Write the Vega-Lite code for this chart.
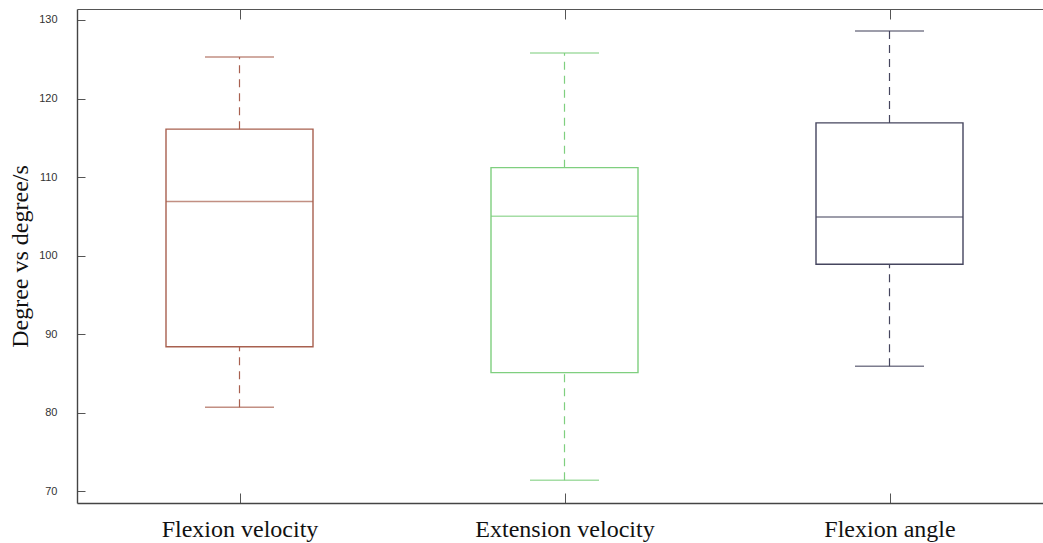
{
  "$schema": "https://vega.github.io/schema/vega-lite/v6.json",
  "autosize": "none",
  "width": 975,
  "height": 494,
  "padding": {"left": 77, "top": 9, "right": 0, "bottom": 40},
  "background": "white",
  "config": {
    "view": {"stroke": null},
    "axis": {"grid": false, "domainColor": "#444", "domainWidth": 1.3, "tickColor": "#555", "tickWidth": 1}
  },
  "data": {
    "values": [
      {"name": "Flexion velocity", "low": 80.7, "q1": 88.4, "median": 106.9, "q3": 116.1, "high": 125.3, "color": "Flexion velocity"},
      {"name": "Extension velocity", "low": 71.4, "q1": 85.1, "median": 105.0, "q3": 111.2, "high": 125.8, "color": "Extension velocity"},
      {"name": "Flexion angle", "low": 85.9, "q1": 98.9, "median": 104.9, "q3": 116.9, "high": 128.6, "color": "Flexion angle"}
    ]
  },
  "resolve": {"axis": {"x": "independent", "y": "independent"}},
  "layer": [
    {
      "mark": {"type": "rule", "strokeDash": [8, 6], "strokeWidth": 1.2},
      "encoding": {
        "x": {"field": "name", "type": "nominal", "sort": null,
              "scale": {"type": "point", "padding": 0.5},
              "axis": {"orient": "bottom", "title": null, "labelAngle": 0, "labelFont": "Liberation Serif", "labelFontSize": 24, "labelColor": "#111", "tickSize": -10, "labelPadding": 24, "domainColor": "#444", "domainWidth": 1.4, "domainOpacity": 1}},
        "y": {"field": "low", "type": "quantitative",
              "scale": {"domain": [68.5, 131.4], "nice": false, "zero": false},
              "axis": {"orient": "left", "values": [70, 80, 90, 100, 110, 120, 130], "title": "Degree vs degree/s", "titleFont": "Liberation Serif", "titleFontSize": 24, "titleFontWeight": "normal", "titleColor": "#111", "titlePadding": 6, "labelFont": "Liberation Sans", "labelFontSize": 11, "labelColor": "#333", "tickSize": -8, "labelPadding": 28, "domainColor": "#444", "domainWidth": 1.4, "domainOpacity": 1}},
        "y2": {"field": "q1"},
        "color": {"field": "color", "type": "nominal", "legend": null,
                  "scale": {"domain": ["Flexion velocity", "Extension velocity", "Flexion angle"], "range": ["#a8604f", "#7fcf7f", "#45455e"]}}
      }
    },
    {
      "mark": {"type": "rule", "strokeDash": [8, 6], "strokeWidth": 1.2},
      "encoding": {
        "x": {"field": "name", "type": "nominal", "sort": null,
              "axis": {"orient": "top", "title": null, "labels": false, "tickSize": -10, "domainColor": "#555", "domainWidth": 1}},
        "y": {"field": "q3", "type": "quantitative",
              "axis": {"orient": "right", "values": [70, 80, 90, 100, 110, 120, 130], "title": null, "labels": false, "tickSize": -8, "domainColor": "#555"}},
        "y2": {"field": "high"},
        "color": {"field": "color", "type": "nominal", "legend": null}
      }
    },
    {
      "mark": {"type": "tick", "size": 69, "thickness": 1.5},
      "encoding": {
        "x": {"field": "name", "type": "nominal", "sort": null, "axis": null},
        "y": {"field": "low", "type": "quantitative", "axis": null},
        "color": {"field": "color", "type": "nominal", "legend": null}
      }
    },
    {
      "mark": {"type": "tick", "size": 69, "thickness": 1.5},
      "encoding": {
        "x": {"field": "name", "type": "nominal", "sort": null, "axis": null},
        "y": {"field": "high", "type": "quantitative", "axis": null},
        "color": {"field": "color", "type": "nominal", "legend": null}
      }
    },
    {
      "mark": {"type": "bar", "size": 147, "fill": "white", "fillOpacity": 0, "strokeWidth": 1.4},
      "encoding": {
        "x": {"field": "name", "type": "nominal", "sort": null, "axis": null},
        "y": {"field": "q1", "type": "quantitative", "axis": null},
        "y2": {"field": "q3"},
        "stroke": {"field": "color", "type": "nominal", "legend": null,
                   "scale": {"domain": ["Flexion velocity", "Extension velocity", "Flexion angle"], "range": ["#a8604f", "#7fcf7f", "#45455e"]}}
      }
    },
    {
      "mark": {"type": "tick", "size": 147, "thickness": 1.5},
      "encoding": {
        "x": {"field": "name", "type": "nominal", "sort": null, "axis": null},
        "y": {"field": "median", "type": "quantitative", "axis": null},
        "color": {"field": "color", "type": "nominal", "legend": null}
      }
    }
  ]
}
